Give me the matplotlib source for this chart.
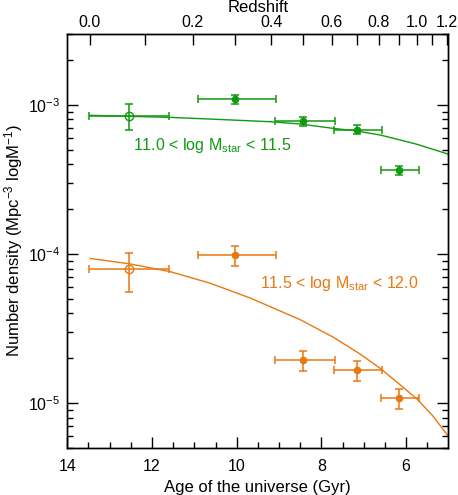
import numpy as np
import matplotlib
matplotlib.use("Agg")
import matplotlib.pyplot as plt
from matplotlib.ticker import NullFormatter, LogLocator

plt.rcParams['font.family'] = ['Liberation Sans', 'DejaVu Sans']
plt.rcParams['mathtext.fontset'] = 'custom'
plt.rcParams['mathtext.rm'] = 'Liberation Sans'
plt.rcParams['mathtext.it'] = 'Liberation Sans:italic'
plt.rcParams['mathtext.bf'] = 'Liberation Sans:bold'

# ---- cosmology for age <-> redshift (flat LCDM, H0=70, Om=0.3)
H0 = 70.0
Om = 0.3
OL = 0.7
def age_of_z(z):
    z = np.asarray(z, dtype=float)
    tH = 977.8 / H0
    return 2.0 / (3.0 * np.sqrt(OL)) * tH * np.arcsinh(np.sqrt(OL / Om) * (1 + z) ** -1.5)

# ---- data
z_points = [0.07, 0.3, 0.5, 0.7, 0.9]
z_lo = [0.0, 0.2, 0.4, 0.6, 0.8]
z_hi = [0.15, 0.4, 0.6, 0.8, 1.0]
open_flags = [True, False, False, False, False]

green_n = [8.43e-4, 1.092e-3, 7.81e-4, 6.83e-4, 3.66e-4]
green_hi = [1.011e-3, 1.167e-3, 8.34e-4, 7.34e-4, 3.92e-4]
green_lo = [6.79e-4, 1.016e-3, 7.26e-4, 6.36e-4, 3.39e-4]

orange_n = [7.89e-5, 9.85e-5, 1.945e-5, 1.657e-5, 1.08e-5]
orange_hi = [1.02e-4, 1.137e-4, 2.245e-5, 1.913e-5, 1.248e-5]
orange_lo = [5.58e-5, 8.31e-5, 1.633e-5, 1.40e-5, 9.12e-6]

# model curves
green_curve_age = [13.46, 11.60, 10.10, 9.18, 8.50, 7.74, 7.20, 6.61, 6.13, 5.74, 4.99]
green_curve_n = [8.53e-4, 8.27e-4, 7.93e-4, 7.72e-4, 7.46e-4, 6.98e-4, 6.72e-4, 6.29e-4, 5.82e-4, 5.45e-4, 4.67e-4]
orange_curve_age = [13.46, 12.52, 11.57, 10.63, 9.68, 8.50, 7.71, 7.08, 6.61, 6.13, 5.74, 5.37, 4.99]
orange_curve_n = [9.35e-5, 8.59e-5, 7.62e-5, 6.38e-5, 5.07e-5, 3.63e-5, 2.76e-5, 2.13e-5, 1.71e-5, 1.32e-5, 1.064e-5, 8.22e-6, 5.94e-6]

green_label = "11.0 < log M$_{\\mathrm{star}}$ < 11.5"
orange_label = "11.5 < log M$_{\\mathrm{star}}$ < 12.0"

z_major = [0.0, 0.2, 0.4, 0.6, 0.8, 1.0, 1.2]
z_minor = [0.1, 0.3, 0.5, 0.7, 0.9, 1.1]

GREEN = '#109a10'
ORANGE = '#e87810'

fig = plt.figure(figsize=(4.58, 4.95), dpi=100)
ax = fig.add_axes([0.147, 0.095, 0.832, 0.8365])

t_pts = age_of_z(z_points)
t_lo = age_of_z(z_hi)
t_hi = age_of_z(z_lo)
xerr = np.abs(np.array([t_hi - t_pts, t_pts - t_lo]))

def draw_series(n, hi, lo, color):
    n = np.array(n); hi = np.array(hi); lo = np.array(lo)
    yerr = np.array([n - lo, hi - n])
    for i in range(len(n)):
        ax.errorbar([t_pts[i]], [n[i]], xerr=xerr[:, i:i+1], yerr=yerr[:, i:i+1],
                    fmt='none', ecolor=color, elinewidth=1.1, capsize=3, capthick=1.1, zorder=3)
        if open_flags[i]:
            ax.plot([t_pts[i]], [n[i]], 'o', ms=6, mfc='none', mec=color, mew=1.0, zorder=4)
        else:
            ax.plot([t_pts[i]], [n[i]], 'o', ms=4.5, mfc=color, mec=color, zorder=4)

ax.plot(green_curve_age, green_curve_n, color=GREEN, lw=1.0, zorder=2)
ax.plot(orange_curve_age, orange_curve_n, color=ORANGE, lw=1.0, zorder=2)
draw_series(green_n, green_hi, green_lo, GREEN)
draw_series(orange_n, orange_hi, orange_lo, ORANGE)

ax.set_yscale('log')
ax.set_xlim(14, 5)
ax.set_ylim(5e-6, 3e-3)

ax.text(12.45, 5.39e-4, green_label, color=GREEN, fontsize=11.5, ha='left', va='center')
ax.text(9.46, 6.39e-5, orange_label, color=ORANGE, fontsize=11.5, ha='left', va='center')

ax.set_xticks([14, 12, 10, 8, 6])
ax.set_xticks(np.arange(5.5, 14.0, 0.5), minor=True)
ax.yaxis.set_major_locator(LogLocator(base=10, numticks=10))
ax.yaxis.set_minor_locator(LogLocator(base=10, subs=np.arange(2, 10), numticks=20))
ax.yaxis.set_minor_formatter(NullFormatter())

ax.tick_params(axis='x', which='major', direction='in', length=8, width=1, top=False, labelsize=11.5, pad=8)
ax.tick_params(axis='x', which='minor', direction='in', length=4, width=1, top=False)
ax.tick_params(axis='y', which='major', direction='in', length=8, width=1, right=True, labelsize=11.5, pad=5)
ax.tick_params(axis='y', which='minor', direction='in', length=4, width=1, right=True)

ax.set_xlabel('Age of the universe (Gyr)', fontsize=12, labelpad=4)
ax.set_ylabel('Number density (Mpc$^{-3}$ logM$^{-1}$)', fontsize=12, labelpad=2)

ax2 = ax.twiny()
ax2.set_xlim(ax.get_xlim())
ax2.set_xticks(age_of_z(z_major))
ax2.set_xticklabels(['%.1f' % z for z in z_major])
ax2.set_xticks(age_of_z(z_minor), minor=True)
ax2.tick_params(axis='x', which='both', direction='in', length=8, width=1, labelsize=11.5, pad=3)
ax2.set_xlabel('Redshift', fontsize=12, labelpad=2)

for a in (ax, ax2):
    for s in a.spines.values():
        s.set_linewidth(1.0)

fig.savefig('out.png', dpi=100)
